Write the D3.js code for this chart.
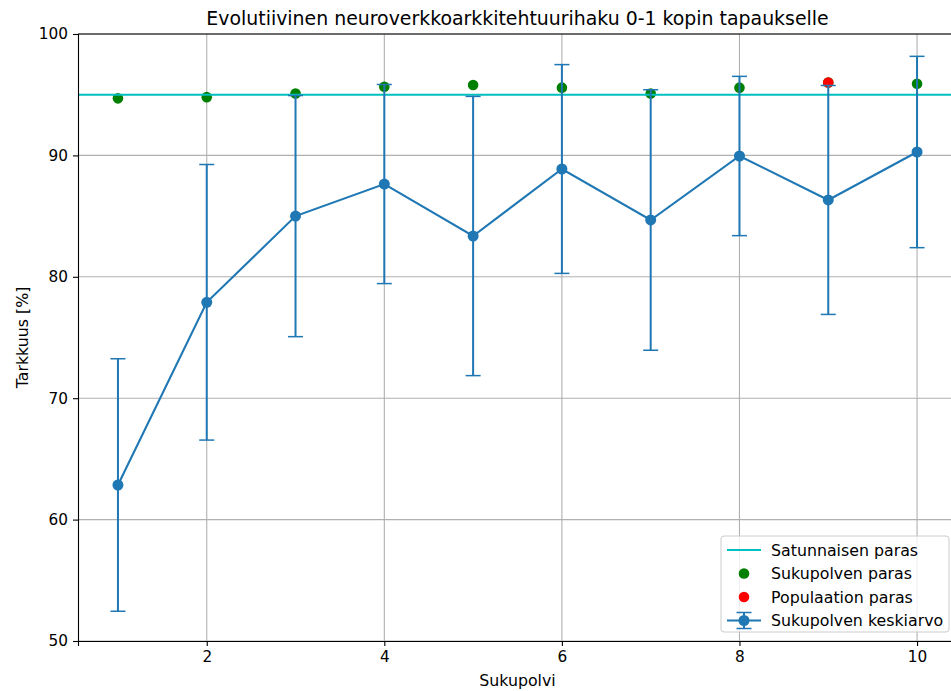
<!DOCTYPE html>
<html>
<head>
<meta charset="utf-8">
<script src="https://cdn.jsdelivr.net/npm/d3@7"></script>
<style>
  body { margin: 0; background: white; }
  svg { display: block; font-family: "DejaVu Sans", sans-serif; }
</style>
</head>
<body>
<script>
// Sukupolvet (generations)
const generations = [1, 2, 3, 4, 5, 6, 7, 8, 9, 10];
// Sukupolven keskiarvo ja keskihajonta
const meanAcc = [62.85, 77.9, 85.0, 87.64, 83.36, 88.88, 84.68, 89.95, 86.33, 90.28];
const stdAcc = [10.4, 11.35, 9.93, 8.2, 11.5, 8.6, 10.73, 6.56, 9.43, 7.88];
// Sukupolven paras
const genBest = [94.7, 94.8, 95.1, 95.65, 95.8, 95.58, 95.1, 95.58, 96.0, 95.9];
// Populaation paras (vain sukupolvi 9)
const popBestGen = [9];
const popBest = [96.0];
// Satunnaisen haun paras
const randomBest = 95.0;

const xTicks = [2, 4, 6, 8, 10];
const yTicks = [50, 60, 70, 80, 90, 100];

const width = 951, height = 691;
const margin = { top: 34, right: -6, bottom: 50, left: 78 };

const svg = d3
  .select("body")
  .append("svg")
  .attr("width", width)
  .attr("height", height);

const x = d3
  .scaleLinear()
  .domain([0.55, 10.45])
  .range([margin.left, width - margin.right]);

const y = d3
  .scaleLinear()
  .domain([50, 100])
  .range([height - margin.bottom, margin.top]);

// Grid
const grid = svg.append("g").attr("stroke", "#b0b0b0").attr("stroke-width", 1.1);
grid
  .selectAll(".gx")
  .data(xTicks)
  .join("line")
  .attr("x1", (d) => x(d))
  .attr("x2", (d) => x(d))
  .attr("y1", y(50))
  .attr("y2", y(100));
grid
  .selectAll(".gy")
  .data(yTicks)
  .join("line")
  .attr("x1", x.range()[0])
  .attr("x2", x.range()[1])
  .attr("y1", (d) => y(d))
  .attr("y2", (d) => y(d));

// Scatter: sukupolven paras, populaation paras
svg
  .append("g")
  .selectAll("circle")
  .data(generations)
  .join("circle")
  .attr("cx", (d) => x(d))
  .attr("cy", (d, i) => y(genBest[i]))
  .attr("r", 5.3)
  .attr("fill", "green");

svg
  .append("g")
  .selectAll("circle")
  .data(popBestGen)
  .join("circle")
  .attr("cx", (d) => x(d))
  .attr("cy", (d, i) => y(popBest[i]))
  .attr("r", 5.3)
  .attr("fill", "red");

// Satunnaisen paras
svg
  .append("line")
  .attr("x1", x.range()[0])
  .attr("x2", x.range()[1])
  .attr("y1", y(randomBest))
  .attr("y2", y(randomBest))
  .attr("stroke", "#00bfbf")
  .attr("stroke-width", 2.1);

// Error bars
const blue = "#1f77b4";
const cap = 7.5;
const err = svg.append("g").attr("stroke", blue).attr("stroke-width", 2);
generations.forEach((g, i) => {
  const lo = y(meanAcc[i] - stdAcc[i]);
  const hi = y(meanAcc[i] + stdAcc[i]);
  err.append("line").attr("x1", x(g)).attr("x2", x(g)).attr("y1", lo).attr("y2", hi);
  err.append("line").attr("x1", x(g) - cap).attr("x2", x(g) + cap).attr("y1", lo).attr("y2", lo).attr("stroke-width", 1.5);
  err.append("line").attr("x1", x(g) - cap).attr("x2", x(g) + cap).attr("y1", hi).attr("y2", hi).attr("stroke-width", 1.5);
});

const line = d3
  .line()
  .x((d) => x(d))
  .y((d, i) => y(meanAcc[i]));

svg
  .append("path")
  .datum(generations)
  .attr("d", line)
  .attr("fill", "none")
  .attr("stroke", blue)
  .attr("stroke-width", 2.1);

svg
  .append("g")
  .selectAll("circle")
  .data(generations)
  .join("circle")
  .attr("cx", (d) => x(d))
  .attr("cy", (d, i) => y(meanAcc[i]))
  .attr("r", 5.5)
  .attr("fill", blue);

// Axes
const xAxis = svg
  .append("g")
  .attr("transform", `translate(0,${y(50)})`)
  .call(d3.axisBottom(x).tickValues(xTicks).tickSize(5).tickPadding(5));
const yAxis = svg
  .append("g")
  .attr("transform", `translate(${margin.left},0)`)
  .call(d3.axisLeft(y).tickValues(yTicks).tickSize(5).tickPadding(5));

[xAxis, yAxis].forEach((a) => {
  a.attr("font-family", "DejaVu Sans").attr("font-size", 15.3);
  a.selectAll("text").attr("fill", "#000");
  a.selectAll("line").attr("stroke", "#000").attr("stroke-width", 1.1);
  a.select(".domain").attr("stroke", "#000").attr("stroke-width", 1.1);
});

// Top spine
svg
  .append("line")
  .attr("x1", x.range()[0])
  .attr("x2", x.range()[1])
  .attr("y1", y(100))
  .attr("y2", y(100))
  .attr("stroke", "#000")
  .attr("stroke-width", 1.1);

// Title and labels
const midX = (x.range()[0] + x.range()[1]) / 2;
svg
  .append("text")
  .attr("x", midX)
  .attr("y", 25)
  .attr("text-anchor", "middle")
  .attr("font-size", 18.9)
  .text("Evolutiivinen neuroverkkoarkkitehtuurihaku 0-1 kopin tapaukselle");

svg
  .append("text")
  .attr("x", midX)
  .attr("y", 686)
  .attr("text-anchor", "middle")
  .attr("font-size", 15.8)
  .text("Sukupolvi");

svg
  .append("text")
  .attr("transform", `translate(28,${(y(50) + y(100)) / 2}) rotate(-90)`)
  .attr("text-anchor", "middle")
  .attr("font-size", 15.8)
  .text("Tarkkuus [%]");

// Legend
const legendItems = [
  { label: "Satunnaisen paras", type: "line" },
  { label: "Sukupolven paras", type: "green" },
  { label: "Populaation paras", type: "red" },
  { label: "Sukupolven keskiarvo", type: "err" },
];
const lg = svg.append("g").attr("transform", "translate(721,536)");
lg.append("rect")
  .attr("width", 228)
  .attr("height", 96)
  .attr("rx", 3)
  .attr("fill", "white")
  .attr("fill-opacity", 0.8)
  .attr("stroke", "#cccccc")
  .attr("stroke-width", 1);

const rows = lg
  .selectAll("g")
  .data(legendItems)
  .join("g")
  .attr("transform", (d, i) => `translate(0,${14 + i * 23.5})`);

rows
  .append("text")
  .attr("x", 50)
  .attr("y", 5.5)
  .attr("font-size", 15.8)
  .text((d) => d.label);

rows
  .filter((d) => d.type === "line")
  .append("line")
  .attr("x1", 6)
  .attr("x2", 40)
  .attr("stroke", "#00bfbf")
  .attr("stroke-width", 2.1);

rows
  .filter((d) => d.type === "green" || d.type === "red")
  .append("circle")
  .attr("cx", 23)
  .attr("r", 5.3)
  .attr("fill", (d) => d.type);

const eh = rows.filter((d) => d.type === "err");
eh.append("line").attr("x1", 6).attr("x2", 40).attr("stroke", blue).attr("stroke-width", 2.1);
eh.append("line").attr("x1", 23).attr("x2", 23).attr("y1", -8).attr("y2", 8).attr("stroke", blue).attr("stroke-width", 2);
eh.append("line").attr("x1", 15.5).attr("x2", 30.5).attr("y1", -8).attr("y2", -8).attr("stroke", blue).attr("stroke-width", 1.5);
eh.append("line").attr("x1", 15.5).attr("x2", 30.5).attr("y1", 8).attr("y2", 8).attr("stroke", blue).attr("stroke-width", 1.5);
eh.append("circle").attr("cx", 23).attr("r", 5.5).attr("fill", blue);
</script>
</body>
</html>
